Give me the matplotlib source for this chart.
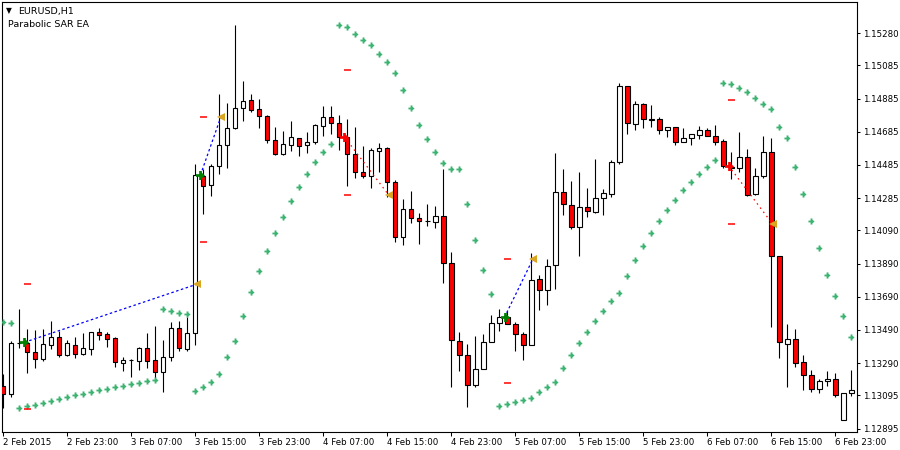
import matplotlib
matplotlib.use("Agg")
import matplotlib.pyplot as plt
import numpy as np
from matplotlib.path import Path

# ---------------- data (EURUSD H1) ----------------
time_labels = ["2 Feb 2015", "2 Feb 23:00", "3 Feb 07:00", "3 Feb 15:00", "3 Feb 23:00",
               "4 Feb 07:00", "4 Feb 15:00", "4 Feb 23:00", "5 Feb 07:00", "5 Feb 15:00",
               "5 Feb 23:00", "6 Feb 07:00", "6 Feb 15:00", "6 Feb 23:00"]
label_bar_step = 8

opens = [1.13151, 1.13103, 1.13413, 1.13409, 1.13355, 1.13316, 1.13401, 1.13445, 1.13340, 1.13397,
         1.13346, 1.13376, 1.13475, 1.13463, 1.13439, 1.13292, 1.13310, 1.13304, 1.13379, 1.13306,
         1.13234, 1.13325, 1.13499, 1.13376, 1.13469, 1.14418, 1.14362, 1.14476, 1.14603, 1.14705,
         1.14826, 1.14874, 1.14820, 1.14778, 1.14633, 1.14552, 1.14603, 1.14645, 1.14603, 1.14621,
         1.14717, 1.14772, 1.14736, 1.14651, 1.14549, 1.14440, 1.14416, 1.14567, 1.14585, 1.14383,
         1.14048, 1.14217, 1.14163, 1.14145, 1.14139, 1.14175, 1.13891, 1.13421, 1.13337, 1.13156,
         1.13252, 1.13415, 1.13530, 1.13566, 1.13524, 1.13463, 1.13397, 1.13795, 1.13729, 1.13879,
         1.14319, 1.14241, 1.14108, 1.14229, 1.14199, 1.14283, 1.14307, 1.14500, 1.14959, 1.14729,
         1.14850, 1.14760, 1.14760, 1.14693, 1.14711, 1.14621, 1.14645, 1.14663, 1.14693, 1.14657,
         1.14627, 1.14474, 1.14464, 1.14530, 1.14307, 1.14416, 1.14561, 1.13934, 1.13403, 1.13433,
         1.13294, 1.13216, 1.13132, 1.13180, 1.13192, 1.12945, 1.13107]

highs = [1.13224, 1.13423, 1.13616, 1.13495, 1.13489, 1.13495, 1.13543, 1.13483, 1.13427, 1.13447,
         1.13471, 1.13476, 1.13501, 1.13475, 1.13445, 1.13325, 1.13316, 1.13385, 1.13473, 1.13513,
         1.13427, 1.13537, 1.13543, 1.13569, 1.14490, 1.14460, 1.14490, 1.14912, 1.14858, 1.15328,
         1.14991, 1.14912, 1.14882, 1.14784, 1.14713, 1.14689, 1.14749, 1.14646, 1.14681, 1.14729,
         1.14840, 1.14840, 1.14784, 1.14761, 1.14713, 1.14600, 1.14585, 1.14615, 1.14591, 1.14395,
         1.14277, 1.14326, 1.14193, 1.14247, 1.14235, 1.14458, 1.13958, 1.13475, 1.13403, 1.13451,
         1.13463, 1.13578, 1.13614, 1.13602, 1.13536, 1.13475, 1.13952, 1.13819, 1.13915, 1.14555,
         1.14458, 1.14386, 1.14440, 1.14344, 1.14518, 1.14338, 1.14512, 1.14977, 1.14960, 1.14868,
         1.14856, 1.14844, 1.14772, 1.14712, 1.14712, 1.14705, 1.14670, 1.14717, 1.14705, 1.14723,
         1.14639, 1.14561, 1.14681, 1.14579, 1.14464, 1.14657, 1.14645, 1.13934, 1.13524, 1.13493,
         1.13337, 1.13246, 1.13192, 1.13240, 1.13228, 1.13107, 1.13246]

lows = [1.13019, 1.13085, 1.13381, 1.13232, 1.13262, 1.13304, 1.13375, 1.13328, 1.13334, 1.13322,
        1.13340, 1.13340, 1.13431, 1.13388, 1.13268, 1.13244, 1.13208, 1.13250, 1.13262, 1.13202,
        1.13117, 1.13304, 1.13361, 1.13364, 1.13401, 1.14190, 1.14299, 1.14432, 1.14468, 1.14704,
        1.14751, 1.14804, 1.14709, 1.14619, 1.14546, 1.14546, 1.14570, 1.14540, 1.14558, 1.14609,
        1.14661, 1.14669, 1.14576, 1.14359, 1.14408, 1.14408, 1.14347, 1.14444, 1.14293, 1.14022,
        1.14003, 1.14133, 1.14007, 1.14118, 1.14106, 1.13774, 1.13147, 1.13244, 1.13027, 1.13147,
        1.13252, 1.13415, 1.13481, 1.13524, 1.13361, 1.13306, 1.13397, 1.13608, 1.13638, 1.13735,
        1.14181, 1.14100, 1.13934, 1.14169, 1.14193, 1.14181, 1.14289, 1.14488, 1.14669, 1.14693,
        1.14705, 1.14711, 1.14669, 1.14651, 1.14603, 1.14620, 1.14603, 1.14639, 1.14656, 1.14603,
        1.14464, 1.14398, 1.14440, 1.14300, 1.14301, 1.14404, 1.13505, 1.13318, 1.13147, 1.13264,
        1.13126, 1.13113, 1.13107, 1.13150, 1.13083, 1.12945, 1.13089]

closes = [1.13103, 1.13411, 1.13411, 1.13355, 1.13316, 1.13403, 1.13445, 1.13340, 1.13409, 1.13346,
          1.13379, 1.13475, 1.13461, 1.13437, 1.13294, 1.13310, 1.13309, 1.13379, 1.13304, 1.13234,
          1.13325, 1.13499, 1.13379, 1.13469, 1.14422, 1.14357, 1.14478, 1.14603, 1.14705, 1.14826,
          1.14868, 1.14814, 1.14778, 1.14633, 1.14552, 1.14609, 1.14651, 1.14597, 1.14621, 1.14723,
          1.14772, 1.14736, 1.14651, 1.14549, 1.14440, 1.14416, 1.14573, 1.14585, 1.14383, 1.14048,
          1.14217, 1.14163, 1.14145, 1.14145, 1.14175, 1.13891, 1.13427, 1.13337, 1.13156, 1.13252,
          1.13415, 1.13530, 1.13566, 1.13524, 1.13463, 1.13397, 1.13789, 1.13729, 1.13873, 1.14319,
          1.14247, 1.14108, 1.14229, 1.14205, 1.14283, 1.14313, 1.14500, 1.14959, 1.14736, 1.14850,
          1.14760, 1.14755, 1.14693, 1.14711, 1.14621, 1.14645, 1.14669, 1.14693, 1.14657, 1.14621,
          1.14476, 1.14468, 1.14530, 1.14301, 1.14416, 1.14561, 1.13934, 1.13415, 1.13433, 1.13288,
          1.13216, 1.13132, 1.13180, 1.13192, 1.13095, 1.13107, 1.13126]

sar = [1.13536, 1.13530, 1.13017, 1.13029, 1.13035, 1.13047, 1.13059, 1.13071, 1.13083, 1.13095,
       1.13101, 1.13113, 1.13126, 1.13132, 1.13144, 1.13150, 1.13162, 1.13168, 1.13180, 1.13186,
       1.13614, 1.13602, 1.13590, 1.13584, 1.13120, 1.13144, 1.13174, 1.13222, 1.13325, 1.13421,
       1.13572, 1.13716, 1.13843, 1.13964, 1.14072, 1.14169, 1.14265, 1.14350, 1.14428, 1.14500,
       1.14561, 1.14609, 1.15326, 1.15314, 1.15272, 1.15236, 1.15206, 1.15152, 1.15103, 1.15037,
       1.14934, 1.14826, 1.14723, 1.14639, 1.14561, 1.14494, 1.14458, 1.14458, 1.14247, 1.14030,
       1.13849, 1.13704, 1.13029, 1.13041, 1.13053, 1.13065, 1.13077, 1.13113, 1.13144, 1.13174,
       1.13258, 1.13337, 1.13409, 1.13475, 1.13542, 1.13602, 1.13662, 1.13710, 1.13813, 1.13909,
       1.13994, 1.14072, 1.14145, 1.14211, 1.14271, 1.14332, 1.14380, 1.14428, 1.14470, 1.14512,
       1.14977, 1.14971, 1.14947, 1.14922, 1.14886, 1.14850, 1.14820, 1.14711, 1.14645, 1.14470,
       1.14307, 1.14145, 1.13982, 1.13819, 1.13692, 1.13572, 1.13445]

# EA trades
trade_dir = ["buy", "buy", "sell", "buy", "sell"]
entry_bar = [3, 25, 43, 63, 91]
entry_price = [1.13415, 1.14424, 1.14653, 1.13566, 1.14480]
exit_bar = [24, 27, 48, 66, 96]
exit_price = [1.13765, 1.14772, 1.14303, 1.13915, 1.14127]
stop_loss = [1.13011, 1.14018, 1.15055, 1.13168, 1.14876]
take_profit = [1.13765, 1.14772, 1.14301, 1.13917, 1.14127]

y_tick_labels = ["1.15280", "1.15085", "1.14885", "1.14685", "1.14485", "1.14285", "1.14090",
                 "1.13890", "1.13690", "1.13490", "1.13290", "1.13095", "1.12895"]

# ---------------- drawing ----------------
W, H = 900, 450
fig = plt.figure(figsize=(W / 100, H / 100), dpi=100)
fig.patch.set_facecolor("white")
ax = fig.add_axes([2 / W, 18 / H, 855 / W, 430 / H])
ax.set_facecolor("white")

n = len(opens)
idx = np.arange(n)
o = np.array(opens); c = np.array(closes); hi = np.array(highs); lo = np.array(lows)

ax.set_xlim(-0.16, 106.71)
ax.set_ylim(1.12874, 1.15467)

# wicks
ax.vlines(idx, lo, hi, color="black", linewidth=0.8, zorder=2)
# bodies
body_bottom = np.minimum(o, c)
body_h = np.abs(c - o)
face = ["#FF0000" if cc < oo else "white" for oo, cc in zip(o, c)]
ax.bar(idx, body_h, bottom=body_bottom, width=0.55, color=face,
       edgecolor="black", linewidth=0.8, zorder=3)

# SAR marker (small arrow-plus)
verts = [(-1, 0.3), (-0.3, 0.3), (-0.3, 1), (0.3, 1), (0.3, 0.6), (1, 0),
         (0.3, -0.6), (0.3, -1), (-0.3, -1), (-0.3, -0.3), (-1, -0.3), (-1, 0.3)]
codes = [Path.MOVETO] + [Path.LINETO] * 10 + [Path.CLOSEPOLY]
arrow_mark = Path(verts, codes)
ax.plot(idx, sar, linestyle="none", marker=arrow_mark, markersize=4.4,
        color="#3CB371", markeredgewidth=0, zorder=4)

# trades
ENTRY_DX = -0.35
EXIT_DX = 0.18
for d, eb, ep, xb, xp, s, t in zip(trade_dir, entry_bar, entry_price, exit_bar,
                                    exit_price, stop_loss, take_profit):
    if d == "buy":
        ax.plot([eb + ENTRY_DX, xb + EXIT_DX], [ep, xp], color="#0000FF", linewidth=0.9,
                linestyle=(0, (2, 2)), zorder=5)
        mcol = "#008000"
    else:
        ax.plot([eb + ENTRY_DX, xb + EXIT_DX], [ep, xp], color="#FF0000", linewidth=0.9,
                linestyle=(0, (1.2, 3)), zorder=5)
        mcol = "#FF0000"
    ax.hlines([s, t], eb - 0.45, eb + 0.45, color="#FF0000", linewidth=1.1, zorder=5)
    ax.plot([eb + ENTRY_DX], [ep], linestyle="none", marker=arrow_mark, markersize=6.5,
            color=mcol, markeredgewidth=0, zorder=6)
    ax.plot([xb + EXIT_DX], [xp], linestyle="none", marker="<", markersize=6,
            color="#DAA520", markeredgewidth=0, zorder=6)

# axes styling
for sp in ax.spines.values():
    sp.set_color("black")
    sp.set_linewidth(0.8)

ax.yaxis.tick_right()
ax.set_yticks([float(v) for v in y_tick_labels])
ax.set_yticklabels(y_tick_labels)
ax.tick_params(axis="y", direction="out", length=2.5, width=0.75, pad=1.5,
               labelsize=6.2, colors="black", left=False, right=True)

ax.set_xticks(np.arange(len(time_labels)) * label_bar_step)
ax.set_xticklabels(time_labels)
ax.tick_params(axis="x", direction="out", length=2.8, width=0.75, pad=1.8,
               labelsize=6.2, colors="black")
for lbl in ax.get_xticklabels():
    lbl.set_horizontalalignment("left")

# header texts
fig.text(6 / W, 1 - 13.5 / H, "\u25BC", fontsize=5.5, color="black", va="baseline")
fig.text(18 / W, 1 - 14 / H, "EURUSD,H1", fontsize=6.8, color="black", va="baseline")
fig.text(7.5 / W, 1 - 27 / H, "Parabolic SAR EA", fontsize=6.8, color="black", va="baseline")

fig.savefig("out.png", dpi=100, facecolor="white")
